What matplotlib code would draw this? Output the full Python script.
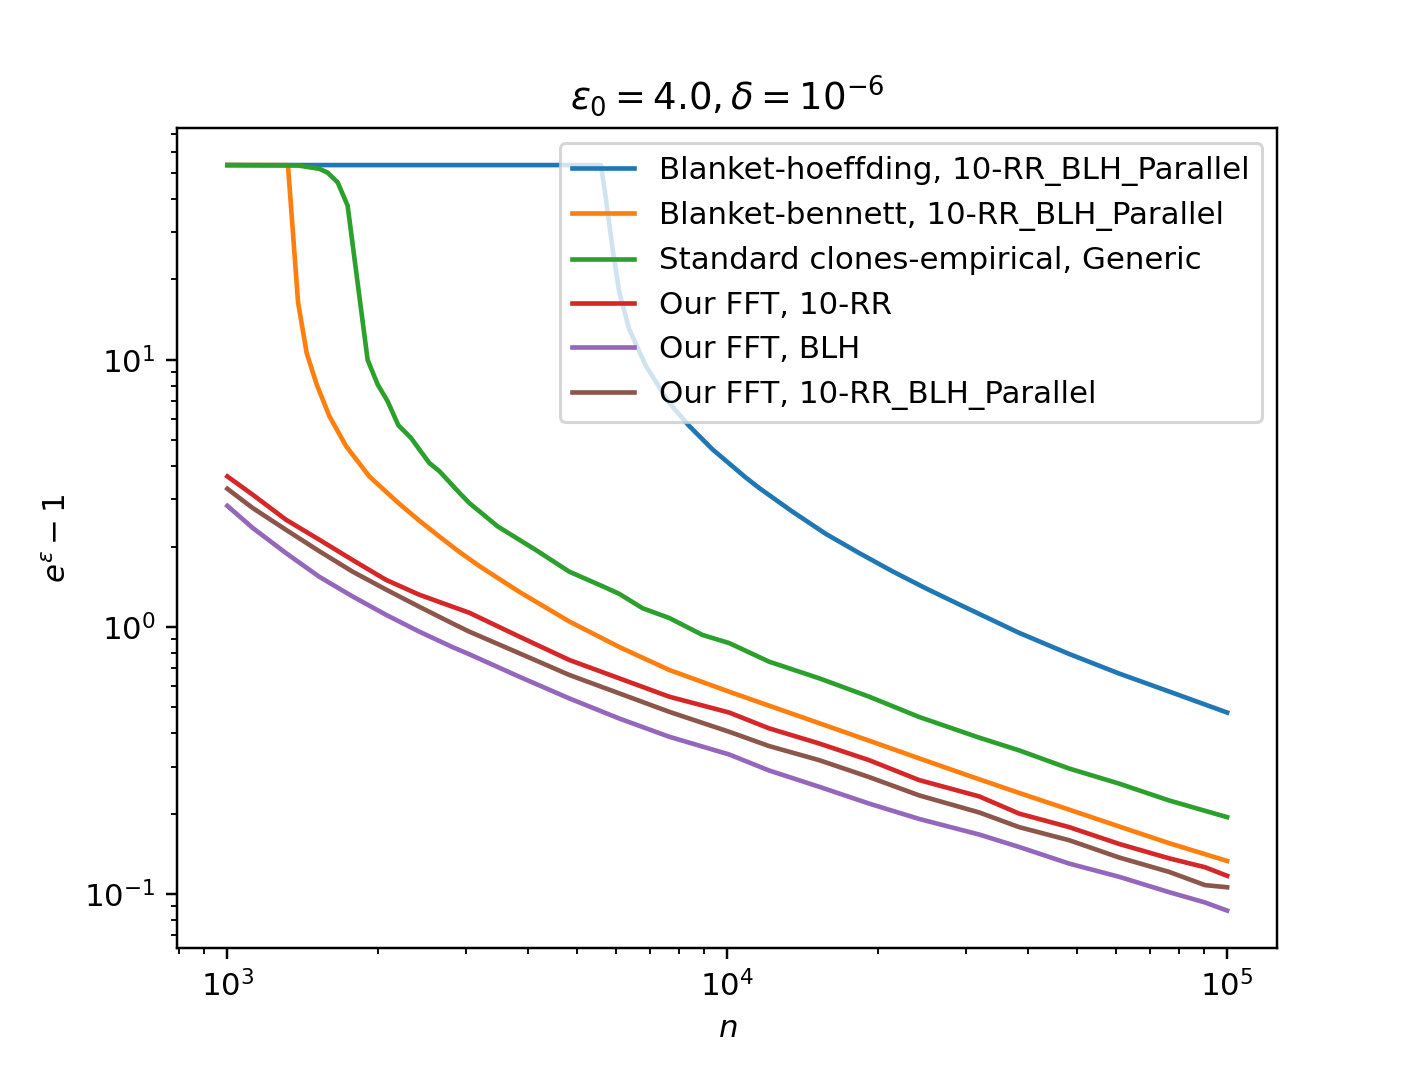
'''
Gráfica de comparación de cotas de privacidad (amplificación por shuffling)
'''

# Librerías.
import matplotlib
matplotlib.use('Agg')
import matplotlib.pyplot as plt

''' ============================== DATOS ============================== '''

# Blanket-hoeffding, 10-RR_BLH_Parallel.
n_hoeffding = [1000, 5590, 5720, 5897, 6081, 6368, 6877, 7656, 8395, 9346,
               10900, 11590, 13510, 15750, 18370, 21410, 24970, 29110,
               38370, 48310, 60810, 76560, 100000]
y_hoeffding = [53.6, 53.6, 40.0, 26.0, 17.9, 13.0, 9.48, 6.9, 5.65, 4.62,
               3.62, 3.31, 2.70, 2.23, 1.89, 1.615, 1.394, 1.214,
               0.95, 0.792, 0.669, 0.573, 0.478]

# Blanket-bennett, 10-RR_BLH_Parallel.
n_bennett = [1000, 1322, 1385, 1441, 1509, 1600, 1728, 1923, 2014, 2208,
             2421, 2655, 2911, 3192, 3447, 3837, 4831, 6081, 7656, 10090,
             12130, 15280, 19230, 24210, 30480, 38370, 48310, 60810, 76560,
             100000]
y_bennett = [53.6, 53.6, 16.4, 10.6, 8.09, 6.15, 4.75, 3.66, 3.38, 2.89,
             2.50, 2.18, 1.91, 1.69, 1.54, 1.353, 1.048, 0.841, 0.69, 0.572,
             0.507, 0.436, 0.375, 0.322, 0.277, 0.239, 0.207, 0.179, 0.155,
             0.133]

# Standard clones-empirical, Generic.
n_clones = [1000, 1385, 1528, 1587, 1662, 1740, 1908, 1998, 2092, 2198,
            2330, 2421, 2535, 2655, 2911, 3048, 3192, 3472, 3837, 4143,
            4831, 5630, 6081, 6770, 7656, 8925, 10090, 12130, 15280, 19230,
            24210, 31920, 38370, 48310, 60810, 76560, 100000]
y_clones = [53.6, 53.4, 51.9, 50.2, 46.2, 37.8, 10.0, 8.09, 7.0, 5.69,
            5.1, 4.62, 4.11, 3.83, 3.18, 2.91, 2.71, 2.38, 2.12, 1.94,
            1.61, 1.42, 1.33, 1.175, 1.08, 0.933, 0.87, 0.741, 0.642, 0.548,
            0.46, 0.385, 0.345, 0.295, 0.259, 0.224, 0.194]

# Malla común para las curvas FFT.
n_fft = [1000, 1123, 1310, 1528, 1781, 2077, 2421, 2822, 3048, 3837, 4831,
         6081, 7656, 10090, 12130, 15280, 19230, 24210, 31920, 38370, 48310,
         60810, 76560, 90290, 100000]

# Our FFT, 10-RR.
y_fft_rr = [3.66, 3.13, 2.52, 2.12, 1.78, 1.50, 1.32, 1.19, 1.13, 0.92,
            0.752, 0.642, 0.548, 0.478, 0.417, 0.366, 0.317, 0.267, 0.232,
            0.2, 0.178, 0.154, 0.136, 0.126, 0.117]

# Our FFT, BLH.
y_fft_blh = [2.84, 2.35, 1.89, 1.54, 1.30, 1.11, 0.96, 0.84, 0.79, 0.651,
             0.54, 0.454, 0.388, 0.333, 0.29, 0.252, 0.218, 0.191, 0.167,
             0.15, 0.13, 0.116, 0.1016, 0.093, 0.0867]

# Our FFT, 10-RR_BLH_Parallel.
y_fft_par = [3.29, 2.79, 2.31, 1.92, 1.61, 1.38, 1.19, 1.03, 0.96, 0.797,
             0.661, 0.564, 0.481, 0.405, 0.358, 0.317, 0.274, 0.234, 0.202,
             0.178, 0.159, 0.137, 0.121, 0.108, 0.106]

etiquetas = ['Blanket-hoeffding, 10-RR_BLH_Parallel',
             'Blanket-bennett, 10-RR_BLH_Parallel',
             'Standard clones-empirical, Generic',
             'Our FFT, 10-RR',
             'Our FFT, BLH',
             'Our FFT, 10-RR_BLH_Parallel']

''' ============================== GRÁFICA ============================== '''

fig, ax = plt.subplots(figsize=(1419 / 222, 1065 / 222), dpi=222)

ax.plot(n_hoeffding, y_hoeffding, label=etiquetas[0])
ax.plot(n_bennett, y_bennett, label=etiquetas[1])
ax.plot(n_clones, y_clones, label=etiquetas[2])
ax.plot(n_fft, y_fft_rr, label=etiquetas[3])
ax.plot(n_fft, y_fft_blh, label=etiquetas[4])
ax.plot(n_fft, y_fft_par, label=etiquetas[5])

ax.set_xscale('log')
ax.set_yscale('log')
ax.set_xlabel('$n$')
ax.set_ylabel(r'$e^{\varepsilon} - 1$')
ax.set_title(r'$\varepsilon_0 = 4.0, \delta = 10^{-6}$')
ax.legend(loc='upper right')

fig.savefig('out.png', dpi=222)
